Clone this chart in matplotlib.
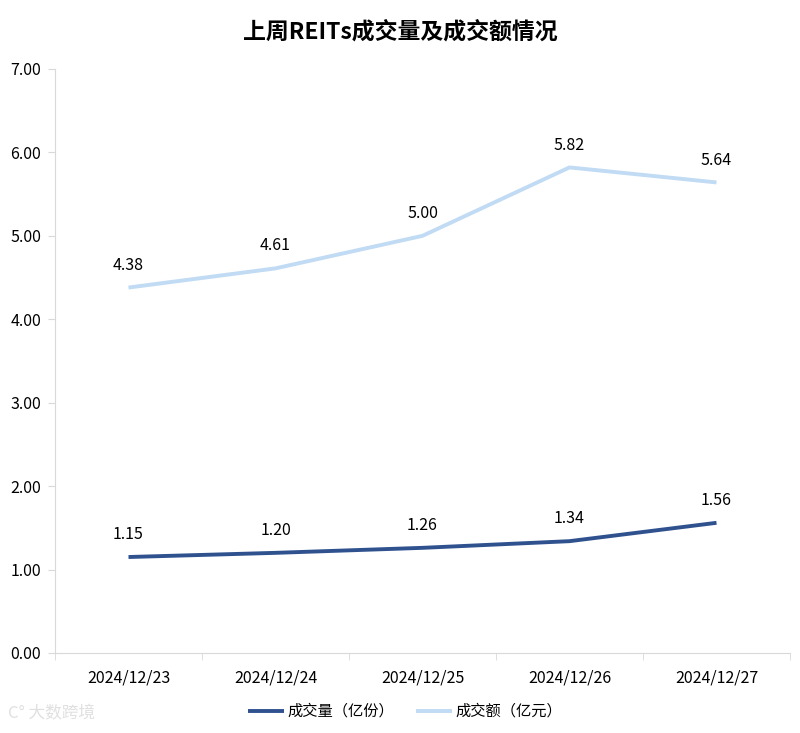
import numpy as np
import matplotlib.pyplot as plt

plt.rcParams['font.family'] = ['Noto Sans CJK SC', 'DejaVu Sans']

dates = ['2024/12/23', '2024/12/24', '2024/12/25', '2024/12/26', '2024/12/27']
volume = [1.15, 1.20, 1.26, 1.34, 1.56]
amount = [4.38, 4.61, 5.00, 5.82, 5.64]
yticks = [0, 1, 2, 3, 4, 5, 6, 7]

fig = plt.figure(figsize=(8, 7.33), dpi=100)
ax = fig.add_axes([0.06875, 0.1092, 0.91875, 0.7967])

x = np.arange(len(dates))
ax.plot(x, volume, color='#2F528F', lw=2.8, solid_capstyle='butt', label='成交量（亿份）')
ax.plot(x, amount, color='#C0DBF3', lw=2.8, solid_capstyle='butt', label='成交额（亿元）')

for xi, v in zip(x, volume):
    ax.annotate(f'{v:.2f}', (xi, v), xytext=(0, 10), textcoords='offset points',
                ha='center', va='bottom', fontsize=11.5, color='#000000')
for xi, v in zip(x, amount):
    ax.annotate(f'{v:.2f}', (xi, v), xytext=(0, 10), textcoords='offset points',
                ha='center', va='bottom', fontsize=11.5, color='#000000')

ax.set_xlim(-0.5, len(dates) - 0.5)
ax.set_ylim(0, 7)
ax.set_yticks(yticks)
ax.set_yticklabels([f'{t:.2f}' for t in yticks])
ax.set_xticks(x)
ax.set_xticklabels(dates)
ax.set_xticks(np.arange(len(dates) + 1) - 0.5, minor=True)
ax.tick_params(axis='x', which='major', length=0, pad=12, labelsize=11.5)
ax.tick_params(axis='x', which='minor', length=5, color='#D9D9D9', direction='out')
ax.tick_params(axis='y', length=5, color='#D9D9D9', labelsize=11.5, pad=5)

for s in ['top', 'right']:
    ax.spines[s].set_visible(False)
ax.spines['left'].set_color('#D9D9D9')
ax.spines['bottom'].set_color('#D9D9D9')

fig.suptitle('上周REITs成交量及成交额情况', y=0.972, fontsize=16.5, fontweight='bold')

ax.legend(loc='upper center', bbox_to_anchor=(0.476, -0.062), ncol=2, frameon=False,
          fontsize=11, handlelength=2.4, columnspacing=1.4, handletextpad=0.2)

fig.text(0.01, 0.02, 'C° 大数跨境', fontsize=12, color='#E0E0E0')

fig.savefig('out.png', dpi=100)
